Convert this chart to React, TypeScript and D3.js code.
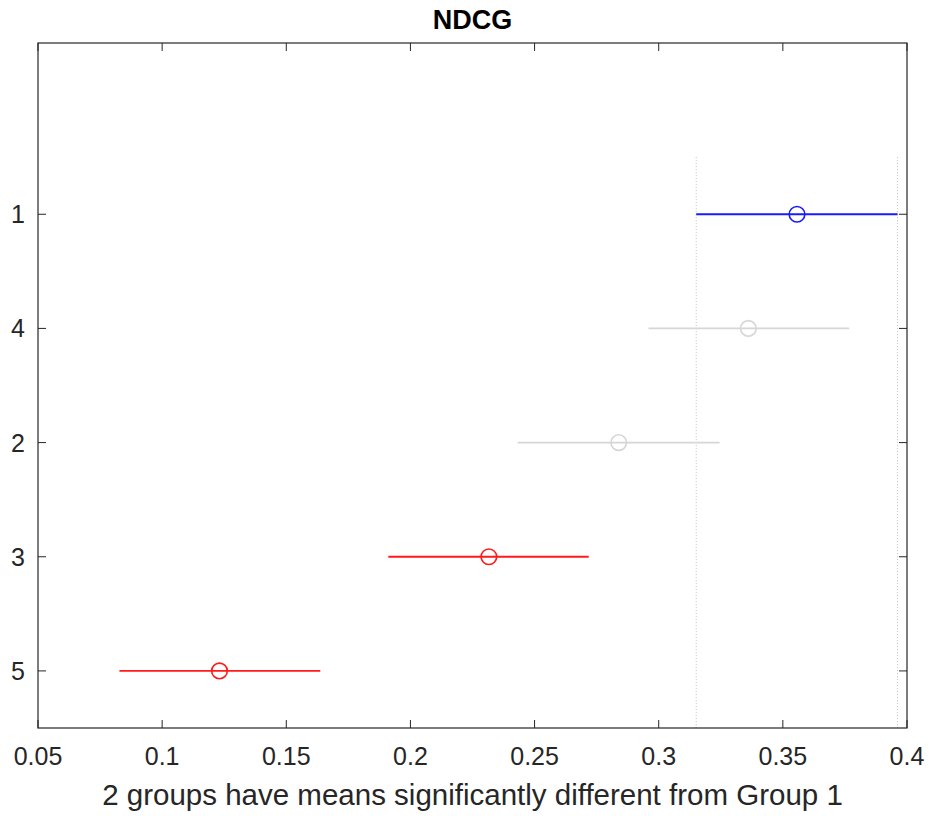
import React from "react";
import * as d3 from "d3";

const groups = ["1", "4", "2", "3", "5"];
const means = [0.3557, 0.3361, 0.2839, 0.2316, 0.1231];
const lows = [0.3151, 0.2959, 0.2432, 0.1911, 0.0828];
const highs = [0.3962, 0.3767, 0.3245, 0.2718, 0.1637];
const status = ["selected", "other", "other", "diff", "diff"];
const xTicks = [0.05, 0.1, 0.15, 0.2, 0.25, 0.3, 0.35, 0.4];
const title = "NDCG";
const xLabel = "2 groups have means significantly different from Group 1";

const W = 929, H = 816;
const L = 38, R = 907, T = 43, B = 728;
const colors: Record<string, string> = { selected: "#1a1aff", other: "#d6d6d6", diff: "#ff1a1a" };

export default function App() {
  const x = d3.scaleLinear().domain([0.05, 0.4]).range([L, R]);
  const y = d3.scaleLinear().domain([-0.5, 5.5]).range([T, B]);
  const font = "'Liberation Sans', Arial, Helvetica, sans-serif";
  const axisColor = "#262626";
  const selIdx = status.indexOf("selected");
  return (
    <svg width={W} height={H} style={{ position: "absolute", left: 0, top: 0, background: "#fff" }}>
      <rect x={0} y={0} width={W} height={H} fill="#fff" />
      {[lows[selIdx], highs[selIdx]].map((v, i) => (
        <line key={"ref" + i} x1={x(v)} x2={x(v)} y1={y(0.5)} y2={B} stroke="#bdbdbd" strokeWidth={1} strokeDasharray="1,2" />
      ))}
      {groups.map((g, i) => (
        <g key={g}>
          <line x1={x(lows[i])} x2={x(highs[i])} y1={y(i + 1)} y2={y(i + 1)} stroke={colors[status[i]]} strokeWidth={1.8} />
          <circle cx={x(means[i])} cy={y(i + 1)} r={7.8} fill="none" stroke={colors[status[i]]} strokeWidth={1.6} />
        </g>
      ))}
      <rect x={L} y={T} width={R - L} height={B - T} fill="none" stroke={axisColor} strokeWidth={1.2} />
      {xTicks.map((t) => (
        <g key={"xt" + t}>
          <line x1={x(t)} x2={x(t)} y1={B} y2={B - 8} stroke={axisColor} />
          <line x1={x(t)} x2={x(t)} y1={T} y2={T + 8} stroke={axisColor} />
          <text x={x(t)} y={765} textAnchor="middle" fontFamily={font} fontSize={25} fill={axisColor}>
            {String(t)}
          </text>
        </g>
      ))}
      {groups.map((g, i) => (
        <g key={"yt" + g}>
          <line x1={L} x2={L + 8} y1={y(i + 1)} y2={y(i + 1)} stroke={axisColor} />
          <line x1={R} x2={R - 8} y1={y(i + 1)} y2={y(i + 1)} stroke={axisColor} />
          <text x={25} y={y(i + 1) + 9} textAnchor="end" fontFamily={font} fontSize={25} fill={axisColor}>
            {g}
          </text>
        </g>
      ))}
      <text x={(L + R) / 2} y={29} textAnchor="middle" fontFamily={font} fontSize={27} fontWeight="bold" fill="#000">
        {title}
      </text>
      <text x={(L + R) / 2} y={805} textAnchor="middle" fontFamily={font} fontSize={29.5} fill={axisColor}>
        {xLabel}
      </text>
    </svg>
  );
}
